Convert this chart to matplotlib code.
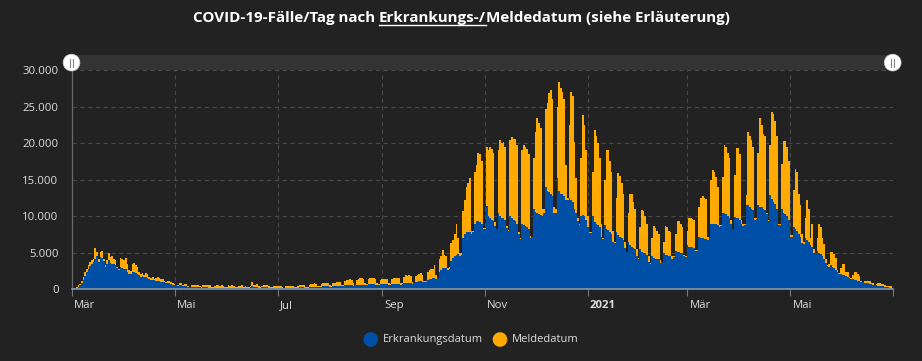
import numpy as np
import pandas as pd
import matplotlib
matplotlib.use("Agg")
import matplotlib.pyplot as plt
import matplotlib.dates as mdates
import matplotlib.transforms as mtransforms
from matplotlib.patches import Rectangle, Circle

# ---------------- data (daily values, starting 2020-03-01) ----------------
start_date = "2020-03-01"
end_date = "2021-07-01"

# cases plotted by date of symptom onset (blue, bottom of stack)
erkrankung = [
    100, 130, 160, 220, 380, 560, 800,
    1300, 1800, 2300, 2800, 3200, 3500, 3700,
    4100, 4500, 3700, 4400, 4300, 3900, 3050,
    3500, 4000, 3600, 3500, 3400, 3300, 2900,
    2600, 3000, 2900, 2800, 2800, 2400, 2100,
    2100, 2300, 2300, 2200, 2100, 1900, 1700,
    1800, 1700, 1700, 1600, 1400, 1300, 1300,
    1250, 1200, 1150, 1100, 1050, 1000, 950,
    800, 850, 800, 750, 650, 600, 550,
    500, 550, 520, 480, 450, 430, 350,
    300, 380, 370, 350, 340, 320, 280,
    220, 270, 260, 250, 230, 240, 200,
    200, 230, 230, 220, 210, 200, 180,
    180, 200, 210, 200, 190, 180, 160,
    160, 190, 200, 190, 170, 180, 150,
    150, 250, 450, 350, 300, 280, 200,
    220, 300, 300, 280, 260, 240, 200,
    180, 220, 220, 210, 200, 190, 170,
    160, 200, 200, 200, 200, 190, 160,
    180, 230, 250, 250, 250, 240, 210,
    230, 300, 320, 330, 330, 320, 280,
    300, 380, 400, 400, 400, 390, 350,
    380, 450, 470, 470, 470, 460, 420,
    450, 550, 560, 560, 560, 540, 500,
    520, 620, 640, 640, 640, 620, 560,
    560, 660, 680, 680, 670, 650, 600,
    580, 680, 700, 700, 690, 670, 620,
    600, 720, 740, 740, 730, 700, 650,
    700, 850, 880, 880, 870, 850, 780,
    800, 1000, 1050, 1100, 1100, 1050, 950,
    1000, 1300, 1400, 1450, 1500, 1500, 1400,
    1500, 2400, 2700, 2900, 2900, 2900, 2600,
    2800, 3900, 4300, 4500, 4700, 4800, 4500,
    4700, 7000, 7500, 7800, 7800, 7800, 7500,
    7800, 9000, 9300, 9300, 9200, 9000, 8300,
    8300, 11400, 10000, 9700, 9500, 9300, 8700,
    8200, 10400, 10000, 9800, 9700, 9500, 8400,
    8000, 10000, 9700, 9500, 9300, 9000, 7500,
    6900, 9000, 8800, 8600, 8500, 8300, 7000,
    7100, 11000, 10600, 10400, 10300, 10200, 10000,
    10500, 14000, 13500, 13300, 13000, 12800, 10500,
    10500, 15200, 13500, 13100, 13000, 12700, 12200,
    12200, 12500, 12200, 12000, 11000, 10500, 9300,
    8800, 10000, 10200, 10000, 9500, 8500, 7700,
    7700, 10000, 9200, 9000, 8800, 8500, 7200,
    6900, 8800, 8300, 8100, 7900, 7600, 6500,
    6400, 7800, 7400, 7200, 7000, 6700, 5600,
    5100, 6500, 6000, 5800, 5700, 5500, 4500,
    4200, 5500, 5100, 5000, 4900, 4700, 3800,
    3500, 4600, 4300, 4200, 4200, 4100, 3600,
    3700, 4900, 4700, 4700, 4600, 4600, 4100,
    4400, 5300, 5100, 5100, 5000, 5000, 4500,
    4400, 6000, 5800, 5800, 5800, 5700, 5200,
    5300, 7200, 7000, 7000, 6900, 6900, 6800,
    7100, 9000, 9000, 8900, 8900, 8800, 8500,
    8600, 10500, 10500, 10300, 10000, 9800, 9000,
    8200, 9900, 9700, 9700, 9500, 9000, 8700,
    8800, 11500, 11500, 11300, 11000, 10800, 9500,
    9600, 11500, 11300, 11300, 11000, 10800, 10300,
    9300, 12900, 12300, 12000, 11700, 11000, 8800,
    8800, 11000, 10500, 10300, 10000, 9500, 7200,
    7200, 8500, 8300, 8000, 7600, 7200, 6300,
    6200, 7000, 6800, 6500, 6000, 5800, 5000,
    4900, 5200, 5000, 4800, 4500, 4200, 3600,
    3200, 3100, 3300, 3100, 2900, 2700, 2300,
    2100, 2100, 2000, 1900, 1800, 1700, 1500,
    1400, 1400, 1300, 1300, 1200, 1100, 1000,
    950, 900, 850, 800, 750, 700, 650,
    600, 550, 500, 480, 450, 420, 380,
    300, 250, 220, 180,
]

# cases without known onset, plotted by reporting date (orange, stacked on top)
melde = [
    30, 70, 70, 100, 170, 220, 300,
    400, 500, 500, 500, 500, 500, 400,
    1500, 600, 500, 700, 900, 300, 250,
    500, 900, 800, 1000, 800, 700, 200,
    200, 1300, 1300, 1200, 1500, 1100, 500,
    400, 1200, 1300, 1100, 900, 500, 400,
    400, 300, 500, 500, 300, 200, 400,
    100, 400, 550, 450, 400, 400, 200,
    150, 300, 300, 250, 220, 180, 90,
    50, 320, 300, 170, 230, 250, 50,
    20, 170, 270, 250, 300, 280, 170,
    100, 280, 340, 400, 320, 360, 180,
    100, 220, 320, 380, 290, 450, 220,
    100, 150, 340, 250, 360, 320, 190,
    90, 210, 250, 360, 180, 320, 150,
    100, 200, 500, 300, 300, 420, 200,
    80, 200, 300, 270, 340, 260, 150,
    70, 180, 230, 290, 250, 230, 130,
    60, 200, 250, 220, 300, 230, 120,
    70, 220, 300, 300, 350, 310, 140,
    70, 300, 380, 420, 470, 430, 170,
    100, 320, 400, 450, 500, 460, 200,
    70, 350, 430, 480, 530, 490, 230,
    100, 550, 690, 740, 790, 710, 300,
    130, 680, 810, 860, 910, 830, 340,
    140, 740, 920, 870, 830, 750, 300,
    120, 620, 700, 750, 710, 680, 230,
    100, 730, 860, 860, 820, 800, 250,
    100, 850, 1020, 970, 1030, 950, 220,
    100, 800, 950, 1000, 1100, 950, 150,
    100, 1000, 1300, 1350, 1300, 1800, 600,
    100, 1800, 1800, 2500, 1800, 1600, 300,
    200, 2400, 2500, 3000, 4200, 2200, 500,
    300, 3700, 4700, 6200, 6700, 7400, 500,
    200, 7100, 7700, 9400, 9300, 8500, 100,
    100, 8000, 9000, 9700, 9700, 9300, 500,
    100, 8600, 10400, 10200, 10500, 10000, 200,
    100, 10400, 11200, 11100, 11200, 10800, 300,
    100, 10000, 10900, 10900, 10700, 10200, 300,
    100, 6900, 10900, 13000, 12500, 11800, 1000,
    500, 10700, 12000, 13500, 14200, 13200, 700,
    500, 9800, 14800, 14400, 14000, 13300, 4800,
    300, 10000, 14800, 14500, 9200, 4700, 400,
    200, 8000, 13600, 12500, 9500, 1500, 200,
    200, 6000, 12600, 12000, 11200, 9500, 1800,
    100, 6200, 10700, 10900, 9600, 8400, 1500,
    100, 4700, 8500, 8300, 7500, 6300, 900,
    50, 4000, 7100, 7200, 6300, 5500, 1000,
    50, 3000, 5800, 5700, 5100, 4300, 700,
    50, 2400, 4300, 4200, 3800, 3400, 400,
    100, 1600, 3900, 3800, 3400, 3200, 500,
    100, 2200, 4200, 4200, 4000, 3500, 200,
    100, 2000, 4000, 4000, 3800, 3800, 200,
    100, 4100, 5500, 5700, 5600, 5500, 400,
    100, 5900, 7300, 7100, 6500, 5200, 300,
    200, 4900, 9200, 9200, 8600, 8200, 500,
    100, 5700, 9600, 9600, 9000, 500, 200,
    100, 1400, 10000, 9700, 9400, 8700, 200,
    100, 7100, 12100, 11200, 10300, 10200, 100,
    200, 6800, 12000, 12000, 11300, 10000, 200,
    200, 6200, 9800, 10000, 9500, 8000, 200,
    200, 5100, 8200, 8000, 5400, 4300, 1200,
    300, 2700, 5400, 4500, 1000, 3200, 500,
    100, 1800, 3900, 3700, 2500, 2000, 600,
    100, 300, 1800, 2000, 1900, 1600, 300,
    100, 800, 1500, 1500, 500, 700, 200,
    100, 600, 1100, 1100, 900, 700, 200,
    50, 200, 350, 300, 350, 200, 150,
    50, 200, 300, 320, 300, 280, 170,
    150, 250, 280, 270,
]

series_names = ["Erkrankungsdatum", "Meldedatum"]
y_ticks = [0, 5000, 10000, 15000, 20000, 25000, 30000]
y_tick_labels = ["0", "5.000", "10.000", "15.000", "20.000", "25.000", "30.000"]
x_tick_dates = ["2020-03-01", "2020-05-01", "2020-07-01", "2020-09-01",
                "2020-11-01", "2021-01-01", "2021-03-01", "2021-05-01", "2021-07-01"]
x_tick_labels = ["Mär", "Mai", "Jul", "Sep", "Nov", "2021", "Mär", "Mai", ""]
title_parts = ["COVID-19-Fälle/Tag nach ", "Erkrankungs-/", "Meldedatum (siehe Erläuterung)"]

# ---------------- style ----------------
BG = "#222222"
BLUE = "#004FA6"
ORANGE = "#FFAA00"
GRID = "#474747"
TXT = "#DDDDDD"
FONT = ["Open Sans", "DejaVu Sans"]
plt.rcParams["font.family"] = FONT

W, H = 922, 361
fig = plt.figure(figsize=(W / 100, H / 100), dpi=100, facecolor=BG)

def fx(px):
    return px / W

def fy(py):
    return 1 - py / H

left_px, right_px, top_px, bot_px = 71.7, 893.3, 70.0, 289.3
ax = fig.add_axes([fx(left_px), fy(bot_px), fx(right_px) - fx(left_px), fy(top_px) - fy(bot_px)])
ax.set_facecolor(BG)

dates = pd.date_range(start_date, periods=len(erkrankung), freq="D")
xd = mdates.date2num(dates)
ax.bar(xd, erkrankung, width=1.0, color=BLUE, linewidth=0, antialiased=False, zorder=3)
ax.bar(xd, melde, bottom=erkrankung, width=1.0, color=ORANGE, linewidth=0,
       antialiased=False, zorder=2)

ax.set_xlim(mdates.date2num(pd.Timestamp(start_date)), mdates.date2num(pd.Timestamp(end_date)))
ax.set_ylim(0, 30000)

ax.set_yticks(y_ticks)
ax.set_yticklabels(y_tick_labels)
ax.tick_params(axis="y", length=0, pad=9.5, labelsize=8.2, labelcolor=TXT)

xt = [mdates.date2num(pd.Timestamp(d)) for d in x_tick_dates]
ax.set_xticks(xt)
ax.set_xticklabels(x_tick_labels)
ax.tick_params(axis="x", length=5, width=0.8, color="#777777", pad=3, labelsize=8.2, labelcolor=TXT)
offset = mtransforms.ScaledTranslation(2 / 100, 0, fig.dpi_scale_trans)
for lab in ax.get_xticklabels():
    lab.set_horizontalalignment("left")
    lab.set_transform(lab.get_transform() + offset)
    if lab.get_text() == "2021":
        lab.set_fontweight("bold")

ax.grid(True, color=GRID, linestyle=(0, (4, 3)), linewidth=0.8, zorder=0)
ax.set_axisbelow(True)
for s in ["top", "right"]:
    ax.spines[s].set_visible(False)
ax.spines["left"].set_color("#6a6a6a")
ax.spines["left"].set_linewidth(0.9)
ax.spines["bottom"].set_color("#8796ab")
ax.spines["bottom"].set_linewidth(1.2)
ax.spines["bottom"].set_zorder(5)

# ---------------- overlay in pixel coordinates ----------------
ov = fig.add_axes([0, 0, 1, 1], zorder=10)
ov.set_xlim(0, W)
ov.set_ylim(H, 0)
ov.axis("off")
ov.patch.set_alpha(0)

# navigator band and handles
ov.add_patch(Rectangle((71, 55), 822, 15, facecolor="#333333", edgecolor="none"))
for hx in (71.5, 892.7):
    ov.add_patch(Circle((hx, 62.6), 8.4, facecolor="white", edgecolor="#cccccc", linewidth=0.5))
    for dx in (-1.4, 1.4):
        ov.plot([hx + dx, hx + dx], [58.6, 66.6], color="#888888", linewidth=0.8)

# title (three pieces, middle one underlined)
fig.canvas.draw()
renderer = fig.canvas.get_renderer()
title_kw = dict(fontsize=10.9, fontweight="bold", color="white", va="baseline", ha="left",
                family=["Open Sans", "DejaVu Sans"])
pieces = [ov.text(0, 22, p, **title_kw) for p in title_parts]
widths = [t.get_window_extent(renderer).width for t in pieces]
x0 = 461 - sum(widths) / 2
xpos = x0
for t, w in zip(pieces, widths):
    t.set_x(xpos)
    xpos += w
ul_x0 = x0 + widths[0]
ov.plot([ul_x0, ul_x0 + widths[1]], [25, 25], color="white", linewidth=1.0)

# legend
leg_y = 339.5
ov.add_patch(Circle((370.7, leg_y), 7.3, facecolor=BLUE, edgecolor="none"))
ov.text(383, leg_y, series_names[0], fontsize=8, color=TXT, va="center", ha="left")
ov.add_patch(Circle((500.0, leg_y), 7.3, facecolor=ORANGE, edgecolor="none"))
ov.text(512, leg_y, series_names[1], fontsize=8, color=TXT, va="center", ha="left")

fig.savefig("out.png", dpi=100, facecolor=BG)
